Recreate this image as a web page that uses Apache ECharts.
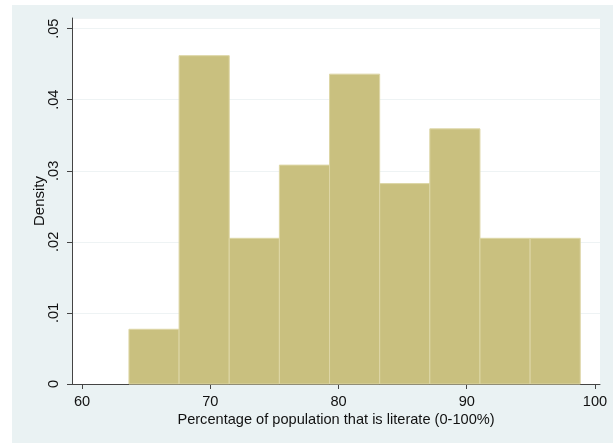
<!DOCTYPE html>
<html>
<head>
<meta charset="utf-8">
<script src="https://cdn.jsdelivr.net/npm/echarts@6/dist/echarts.min.js"></script>
<style>
  html, body { margin: 0; padding: 0; background: #fff; }
  #chart { width: 613px; height: 443px; }
</style>
</head>
<body>
<div id="chart"></div>
<script>
// histogram bins (lower edge, width, density)
const binStarts = [63.66, 67.57, 71.48, 75.39, 79.30, 83.21, 87.12, 91.03, 94.94];
const binWidth = 3.91;
const densities = [0.0077, 0.0462, 0.0205, 0.0308, 0.0436, 0.0282, 0.0359, 0.0205, 0.0205];
const xTicks = [60, 70, 80, 90, 100];

const chart = echarts.init(document.getElementById('chart'));

const font = 'Liberation Sans, Arial, sans-serif';
const bg = '#EAF2F3';
const txt = '#111';

chart.setOption({
    backgroundColor: '#fff',
    animation: false,
    graphic: [{
        type: 'rect',
        z: -10,
        shape: { x: 12, y: 5, width: 613, height: 443 },
        style: { fill: bg }
    }, {
        type: 'rect',
        z: -9,
        shape: { x: 72, y: 18, width: 528, height: 366 },
        style: { fill: '#fff' }
    }],
    grid: { left: 72, right: 13, top: 18, bottom: 59 },
    xAxis: {
        type: 'value',
        min: 59.22,
        max: 100.39,
        name: 'Percentage of population that is literate (0-100%)',
        nameLocation: 'middle',
        nameGap: 28,
        nameMoveOverlap: false,
        nameTextStyle: { fontFamily: font, fontSize: 14.6, color: txt },
        axisLine: { show: true, lineStyle: { color: '#444', width: 1 } },
        axisTick: { show: true, length: 5, customValues: xTicks, lineStyle: { color: '#444' } },
        axisLabel: { customValues: xTicks, margin: 10, fontFamily: font, fontSize: 14.6, color: txt },
        splitLine: { show: false }
    },
    yAxis: {
        type: 'value',
        min: 0,
        max: 0.0515,
        interval: 0.01,
        name: 'Density',
        nameLocation: 'middle',
        nameGap: 25,
        nameMoveOverlap: false,
        nameTextStyle: { fontFamily: font, fontSize: 15, color: txt },
        axisLine: { show: true, lineStyle: { color: '#444', width: 1 } },
        axisTick: { show: true, length: 5, lineStyle: { color: '#444' } },
        axisLabel: {
            rotate: 90,
            margin: 11,
            fontFamily: font,
            fontSize: 14.6,
            color: txt,
            showMaxLabel: false,
            formatter: v => v === 0 ? '0' : v.toFixed(2).replace(/^0/, '')
        },
        splitLine: { show: true, lineStyle: { color: '#EEF3F4', width: 1 } }
    },
    series: [{
        type: 'custom',
        data: binStarts.map((s, i) => [s, s + binWidth, densities[i]]),
        encode: { x: [0, 1], y: 2 },
        renderItem(params, api) {
            const p0 = api.coord([api.value(0), api.value(2)]);
            const p1 = api.coord([api.value(1), 0]);
            return {
                type: 'rect',
                shape: { x: p0[0], y: p0[1], width: p1[0] - p0[0], height: p1[1] - p0[1] },
                style: { fill: '#C9C07F', stroke: '#DDD6A6', lineWidth: 1 }
            };
        }
    }]
});
</script>
</body>
</html>
